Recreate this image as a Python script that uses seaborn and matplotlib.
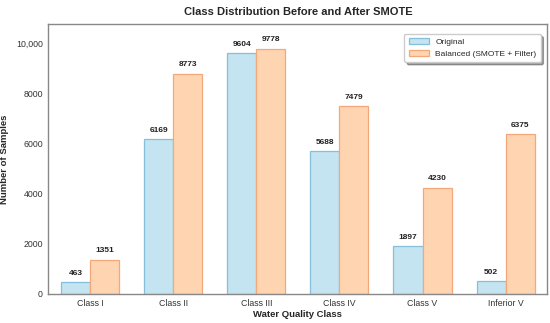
import matplotlib
matplotlib.use("Agg")
import matplotlib.pyplot as plt
import matplotlib.ticker as mticker
import seaborn as sns
import pandas as pd

classes = ["Class I", "Class II", "Class III", "Class IV", "Class V", "Inferior V"]
original = [463, 6169, 9604, 5688, 1897, 502]
balanced = [1351, 8773, 9778, 7479, 4230, 6375]
series_names = ["Original", "Balanced (SMOTE + Filter)"]

df = pd.DataFrame({
    "cls": classes * 2,
    "count": original + balanced,
    "series": [series_names[0]] * len(classes) + [series_names[1]] * len(classes),
})

sns.set_theme(style="white")
plt.rcParams['font.family'] = ['Liberation Sans', 'DejaVu Sans']

fig, ax = plt.subplots(figsize=(5.5, 3.23), dpi=100)
sns.barplot(data=df, x="cls", y="count", hue="series", ax=ax,
            palette=["#c4e4f1", "#ffd4b0"], width=0.7, gap=0, saturation=1,
            edgecolor="black", linewidth=0.9, legend=False)

edges = ["#86bfdb", "#f2a878"]
for cont, ec, name in zip(ax.containers, edges, series_names):
    for bar in cont:
        bar.set_edgecolor(ec)
    cont[0].set_label(name)
    ax.bar_label(cont, padding=4, fontsize=6, fontweight="bold", color="#222222")

ax.set_ylim(0, max(balanced) * 1.1)
ax.yaxis.set_major_locator(mticker.MultipleLocator(2000))
ax.yaxis.set_major_formatter(mticker.FuncFormatter(
    lambda v, p: f"{int(v):,}" if v >= 10000 else f"{int(v)}"))
ax.tick_params(axis="both", labelsize=6.3, colors="#333333", length=0, pad=4)
ax.set_xlabel("Water Quality Class", fontsize=6.8, fontweight="bold", labelpad=1)
ax.set_ylabel("Number of Samples", fontsize=6.8, fontweight="bold")
ax.yaxis.set_label_coords(-0.078, 0.5)
ax.set_title("Class Distribution Before and After SMOTE", fontsize=8,
             fontweight="bold", pad=7)
for s in ax.spines.values():
    s.set_color("#888888")
    s.set_linewidth(1)

handles = [ax.containers[0][0], ax.containers[1][0]]
leg = ax.legend(handles, series_names, loc="upper right", fontsize=6,
                frameon=True, shadow=True, fancybox=True, handlelength=2.4,
                borderpad=0.5, bbox_to_anchor=(0.995, 0.98))
leg.get_frame().set_edgecolor("#cccccc")

fig.subplots_adjust(left=0.088, right=0.995, top=0.925, bottom=0.09)
fig.savefig("out.png", dpi=100)
